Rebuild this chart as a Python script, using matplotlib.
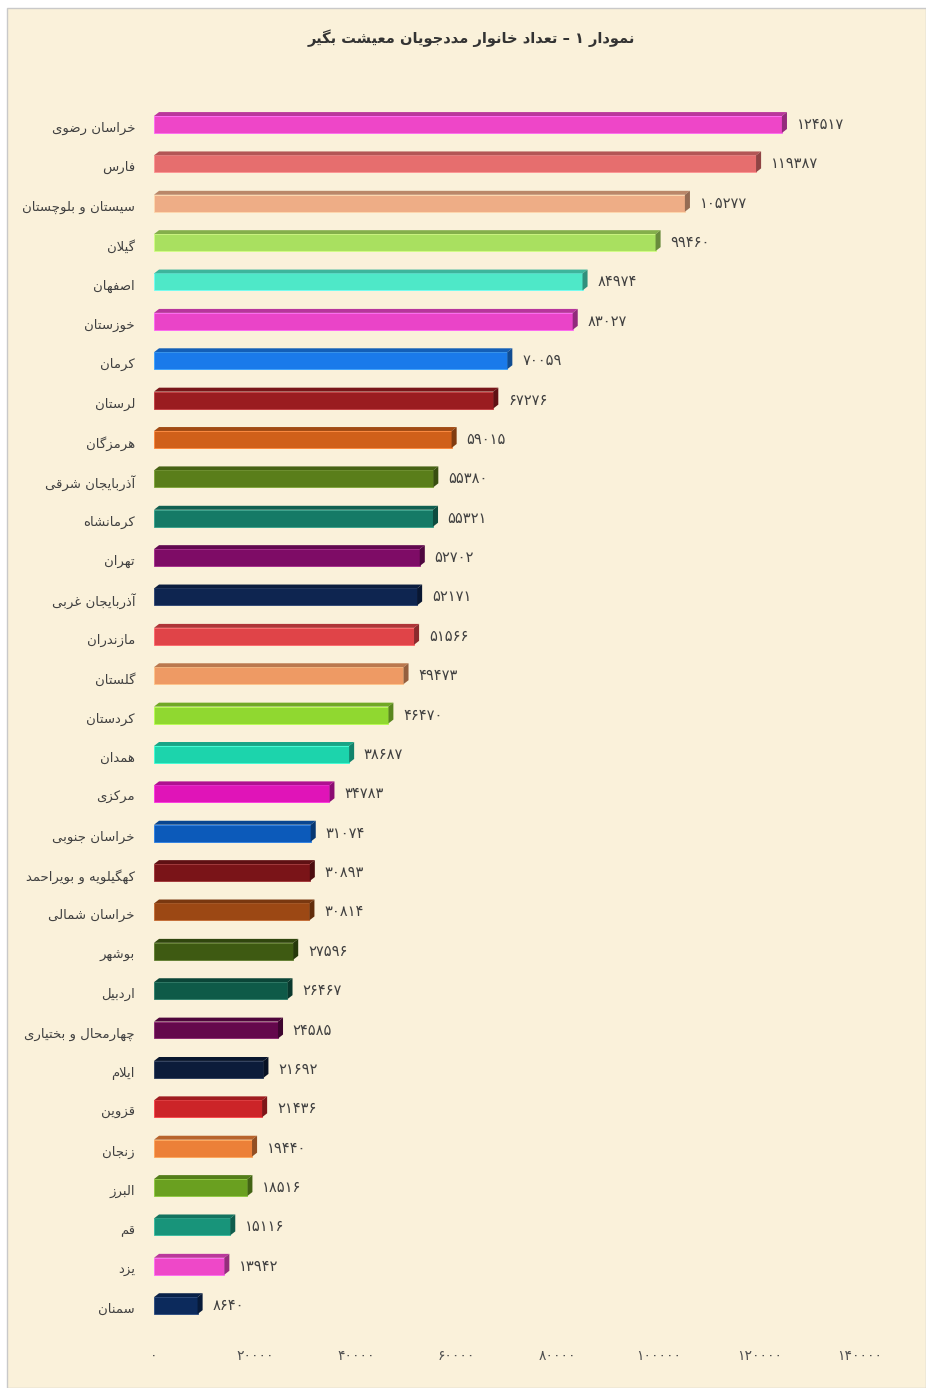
import matplotlib
matplotlib.use("Agg")
import matplotlib.pyplot as plt
from matplotlib.patches import Polygon, Rectangle
from matplotlib.ticker import FuncFormatter
from matplotlib import font_manager
from matplotlib.ft2font import FT2Font
import matplotlib.colors as mcolors

# ---- data -------------------------------------------------------------
title = "نمودار ۱ – تعداد خانوار مددجویان معیشت بگیر"

provinces = ["خراسان رضوی", "فارس", "سیستان و بلوچستان", "گیلان", "اصفهان",
             "خوزستان", "کرمان", "لرستان", "هرمزگان", "آذربایجان شرقی",
             "کرمانشاه", "تهران", "آذربایجان غربی", "مازندران", "گلستان",
             "کردستان", "همدان", "مرکزی", "خراسان جنوبی", "کهگیلویه و بویراحمد",
             "خراسان شمالی", "بوشهر", "اردبیل", "چهارمحال و بختیاری", "ایلام",
             "قزوین", "زنجان", "البرز", "قم", "یزد", "سمنان"]

households = [124517, 119387, 105277, 99460, 84974, 83027, 70059, 67276,
              59015, 55380, 55321, 52702, 52171, 51566, 49473, 46470, 38687,
              34783, 31074, 30893, 30814, 27596, 26467, 24585, 21692, 21436,
              19440, 18516, 15116, 13942, 8640]

bar_colors = ["#EE46C8", "#E66E6E", "#EEAD86", "#A9E060", "#4EE8C8",
              "#EA44C8", "#1A7AEA", "#9A1C20", "#D0601A", "#5A7E1A",
              "#157A66", "#7E0C66", "#0E2550", "#E04448", "#EE9A64",
              "#90D830", "#1CD4AC", "#E014B8", "#0C5ABA", "#7A1418",
              "#9C4814", "#3E5A12", "#0E5A48", "#64084C", "#0C1C3A",
              "#CC2428", "#EC8038", "#6AA020", "#18947A", "#EE48C8",
              "#0C2A5C"]

x_ticks = [0, 20000, 40000, 60000, 80000, 100000, 120000, 140000]

# ---- persian text helpers (matplotlib has no shaping) -----------------
FONT = "DejaVu Sans"
_ft = FT2Font(font_manager.findfont(FONT))

def has_glyph(ch):
    return _ft.get_char_index(ord(ch)) != 0

# isolated, final, initial, medial
FORMS = {
    "ا": ("\uFE8D", "\uFE8E"), "آ": ("\uFE81", "\uFE82"),
    "د": ("\uFEA9", "\uFEAA"), "ذ": ("\uFEAB", "\uFEAC"),
    "ر": ("\uFEAD", "\uFEAE"), "ز": ("\uFEAF", "\uFEB0"),
    "ژ": ("\uFB8A", "\uFB8B"), "و": ("\uFEED", "\uFEEE"),
    "ب": ("\uFE8F", "\uFE90", "\uFE91", "\uFE92"),
    "پ": ("\uFB56", "\uFB57", "\uFB58", "\uFB59"),
    "ت": ("\uFE95", "\uFE96", "\uFE97", "\uFE98"),
    "ث": ("\uFE99", "\uFE9A", "\uFE9B", "\uFE9C"),
    "ج": ("\uFE9D", "\uFE9E", "\uFE9F", "\uFEA0"),
    "چ": ("\uFB7A", "\uFB7B", "\uFB7C", "\uFB7D"),
    "ح": ("\uFEA1", "\uFEA2", "\uFEA3", "\uFEA4"),
    "خ": ("\uFEA5", "\uFEA6", "\uFEA7", "\uFEA8"),
    "س": ("\uFEB1", "\uFEB2", "\uFEB3", "\uFEB4"),
    "ش": ("\uFEB5", "\uFEB6", "\uFEB7", "\uFEB8"),
    "ص": ("\uFEB9", "\uFEBA", "\uFEBB", "\uFEBC"),
    "ض": ("\uFEBD", "\uFEBE", "\uFEBF", "\uFEC0"),
    "ط": ("\uFEC1", "\uFEC2", "\uFEC3", "\uFEC4"),
    "ظ": ("\uFEC5", "\uFEC6", "\uFEC7", "\uFEC8"),
    "ع": ("\uFEC9", "\uFECA", "\uFECB", "\uFECC"),
    "غ": ("\uFECD", "\uFECE", "\uFECF", "\uFED0"),
    "ف": ("\uFED1", "\uFED2", "\uFED3", "\uFED4"),
    "ق": ("\uFED5", "\uFED6", "\uFED7", "\uFED8"),
    "ک": ("\uFB8E", "\uFB8F", "\uFB90", "\uFB91"),
    "گ": ("\uFB92", "\uFB93", "\uFB94", "\uFB95"),
    "ل": ("\uFEDD", "\uFEDE", "\uFEDF", "\uFEE0"),
    "م": ("\uFEE1", "\uFEE2", "\uFEE3", "\uFEE4"),
    "ن": ("\uFEE5", "\uFEE6", "\uFEE7", "\uFEE8"),
    "ه": ("\uFEE9", "\uFEEA", "\uFEEB", "\uFEEC"),
    "ی": ("\uFBFC", "\uFBFD", "\uFBFE", "\uFBFF"),
}
# fallbacks if the font misses the persian presentation forms
if not has_glyph("\uFBFC"):
    FORMS["ی"] = ("\uFEEF", "\uFEF0", "\uFEF3", "\uFEF4")
if not has_glyph("\uFB8E"):
    FORMS["ک"] = ("\uFED9", "\uFEDA", "\uFEDB", "\uFEDC")

LAM_ALEF = {"ا": ("\uFEFB", "\uFEFC"), "آ": ("\uFEF5", "\uFEF6")}


def joins_forward(ch):
    return ch in FORMS and len(FORMS[ch]) == 4


def shape(text):
    out = []
    i = 0
    n = len(text)
    while i < n:
        ch = text[i]
        prev = text[i - 1] if i > 0 else ""
        prev_join = joins_forward(prev)
        if ch == "ل" and i + 1 < n and text[i + 1] in LAM_ALEF:
            iso, fin = LAM_ALEF[text[i + 1]]
            out.append(fin if prev_join else iso)
            i += 2
            continue
        if ch in FORMS:
            f = FORMS[ch]
            nxt = text[i + 1] if i + 1 < n else ""
            next_join = joins_forward(ch) and nxt in FORMS
            if prev_join and next_join:
                out.append(f[3])
            elif prev_join:
                out.append(f[1])
            elif next_join:
                out.append(f[2])
            else:
                out.append(f[0])
        else:
            out.append(ch)
        i += 1
    return "".join(out)[::-1]


FA_DIGITS = str.maketrans("0123456789", "۰۱۲۳۴۵۶۷۸۹")


def fa_num(v):
    return str(int(v)).translate(FA_DIGITS)


# ---- figure -------------------------------------------------------------
W, H = 926, 1388
fig = plt.figure(figsize=(W / 100, H / 100), dpi=100, facecolor="white")
fig.patches.append(Rectangle((7 / W, 0), 1 - 7 / W, 1 - 8 / H,
                             transform=fig.transFigure, facecolor="#FAF1DA",
                             edgecolor="#C9C9C9", linewidth=1.0, zorder=-10))

n = len(provinces)
ax = fig.add_axes([154 / W, 1 - 1345 / H, (860 - 154) / W, (1345 - 85.1) / H])
ax.set_facecolor("none")
ax.set_xlim(0, 140000)
ax.set_ylim(n, -1)

bar_h = 0.43
dx = 1000     # depth offset in x (data units)
dy = 0.10     # depth offset in y (rows)

for i, (v, c) in enumerate(zip(households, bar_colors)):
    rgb = mcolors.to_rgb(c)
    top_c = tuple(k * 0.78 for k in rgb)
    side_c = tuple(k * 0.62 for k in rgb)
    y0 = i - bar_h / 2
    y1 = i + bar_h / 2
    ax.add_patch(Rectangle((0, y0), v, bar_h, facecolor=c,
                           edgecolor=tuple(min(1, k * 1.1 + 0.1) for k in rgb),
                           linewidth=0.6))
    ax.add_patch(Polygon([(0, y0), (v, y0), (v + dx, y0 - dy), (dx, y0 - dy)],
                         closed=True, facecolor=top_c, edgecolor="none"))
    ax.add_patch(Polygon([(v, y0), (v + dx, y0 - dy), (v + dx, y1 - dy), (v, y1)],
                         closed=True, facecolor=side_c, edgecolor="none"))
    ax.annotate(fa_num(v), (v + dx, i), xytext=(7, 0), textcoords="offset points",
                ha="left", va="center", fontsize=10.5, color="#404040",
                family=FONT)
    # province name, a little below the bar centre as in the original
    ax.annotate(shape(provinces[i]), (0, i), xycoords=("axes fraction", "data"),
                xytext=(-19, -4), textcoords="offset pixels",
                ha="right", va="center", fontsize=9.5, color="#404040",
                family=FONT)

ax.set_yticks([])
ax.set_xticks(x_ticks)
ax.xaxis.set_major_formatter(FuncFormatter(lambda v, p: fa_num(v)))
for lab in ax.get_xticklabels():
    lab.set_family(FONT)
ax.tick_params(axis="x", length=0, pad=3, labelsize=10, labelcolor="#505050")
for s in ax.spines.values():
    s.set_visible(False)

fig.text(471 / W, 1 - 38 / H, shape(title), ha="center", va="center",
         fontsize=10.5, fontweight="bold", color="#333333", family=FONT)

fig.savefig("out.png", dpi=100, facecolor=fig.get_facecolor())
